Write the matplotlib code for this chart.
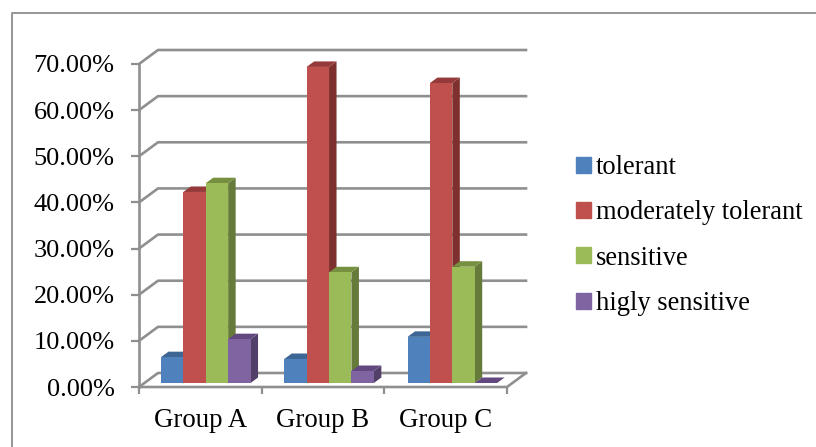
import numpy as np
import matplotlib
matplotlib.use('Agg')
import matplotlib.pyplot as plt
from matplotlib.lines import Line2D
from matplotlib.patches import Polygon, Rectangle
from matplotlib.transforms import Affine2D

plt.rcParams['font.family'] = ['Liberation Serif', 'DejaVu Serif']

groups = ['Group A', 'Group B', 'Group C']
series = ['tolerant', 'moderately tolerant', 'sensitive', 'higly sensitive']

# percent values per group
tolerant = [5.6, 5.2, 10.0]
moderately_tolerant = [41.4, 68.5, 65.0]
sensitive = [43.3, 24.0, 25.2]
higly_sensitive = [9.5, 2.6, 0.0]

face = ['#4f81bd', '#c0504d', '#9bbb59', '#8064a2']
side = ['#385d8a', '#7d302e', '#667a3a', '#524068']
top = ['#3d6695', '#96393a', '#76903f', '#62487f']
grid_col = '#8f8f8f'

W, H = 816, 447
fig = plt.figure(figsize=(W / 100, H / 100), dpi=100)

# frame: only the top and left edges are visible
fig.add_artist(Line2D([11.5 / W, 11.5 / W, 1], [0, 1 - 12.5 / H, 1 - 12.5 / H],
                      transform=fig.transFigure, color='#969696', lw=1.4))

# axes = front plane of the 3D box
left, right, bottom_y, top_y = 139, 507, 387, 64
ax = fig.add_axes([left / W, 1 - bottom_y / H, (right - left) / W, (bottom_y - top_y) / H])
ax.set_xlim(0, 3)
ax.set_ylim(0, 70)
ax.patch.set_alpha(0)

per_x = (right - left) / 3
per_y = (bottom_y - top_y) / 70
wall_dx, wall_dy = 19 / per_x, 14 / per_y   # box depth, in data units
bar_dx, bar_dy = 7.5 / per_x, 5.5 / per_y   # bar depth, in data units
lift = Affine2D().translate(0, 4)           # bars stand 4 px inside the floor
bar_tr = ax.transData + lift

yticks = np.arange(0, 71, 10)

# walls and floor
for y in yticks:
    xs = [0, wall_dx, 3 + wall_dx]
    ys = [y, y + wall_dy, y + wall_dy]
    ax.plot(xs, ys, color=grid_col, lw=1.9, clip_on=False, zorder=1)
ax.plot([0, 3, 3 + wall_dx], [0, 0, wall_dy], color=grid_col, lw=1.9, clip_on=False, zorder=1)

# bars
values = [tolerant, moderately_tolerant, sensitive, higly_sensitive]
bar_w = 0.1826
start = 0.179
group_gap = 1.005
for i, vals in enumerate(values):
    xpos = np.arange(3) * group_gap + start + i * bar_w
    ax.bar(xpos, vals, width=bar_w, align='edge', color=face[i], transform=bar_tr,
           clip_on=False, zorder=2 + i * 0.1)
    for x0, v in zip(xpos, vals):
        x1 = x0 + bar_w
        ax.add_patch(Polygon([(x1, 0), (x1 + bar_dx, bar_dy), (x1 + bar_dx, v + bar_dy), (x1, v)],
                             facecolor=side[i], edgecolor='none', transform=bar_tr,
                             clip_on=False, zorder=1.9 + i * 0.1))
        ax.add_patch(Polygon([(x0, v), (x0 + bar_dx, v + bar_dy), (x1 + bar_dx, v + bar_dy), (x1, v)],
                             facecolor=top[i], edgecolor='none', transform=bar_tr,
                             clip_on=False, zorder=1.9 + i * 0.1))

# axes and ticks
for s in ['top', 'right', 'bottom']:
    ax.spines[s].set_visible(False)
ax.spines['left'].set_color(grid_col)
ax.spines['left'].set_linewidth(1.9)
ax.set_xticks([0, 1, 2, 3])
ax.set_xticklabels([])
ax.set_xticks([0.5, 1.5, 2.5], minor=True)
ax.set_xticklabels(groups, minor=True, fontsize=19.4)
ax.tick_params(axis='x', which='major', length=5, width=1.6, color=grid_col)
ax.tick_params(axis='x', which='minor', length=0, pad=15)
ax.tick_params(axis='y', length=5.5, width=1.6, color=grid_col, pad=12)
ax.set_yticks(yticks)
ax.set_yticklabels(['%.2f%%' % y for y in yticks], fontsize=18.9, va='center')
for label in ax.get_yticklabels():
    label.set_transform(label.get_transform() + Affine2D().translate(0, -2.5))

# legend
handles = [Rectangle((0, 0), 1, 1, color=c) for c in face]
fig.legend(handles, series, loc='upper left', bbox_to_anchor=(576 / W, 1 - 155 / H),
           frameon=False, fontsize=19.1, handlelength=0.55, handleheight=0.55,
           handletextpad=0.19, labelspacing=0.77, borderpad=0, borderaxespad=0)

fig.savefig('out.png', dpi=100)
